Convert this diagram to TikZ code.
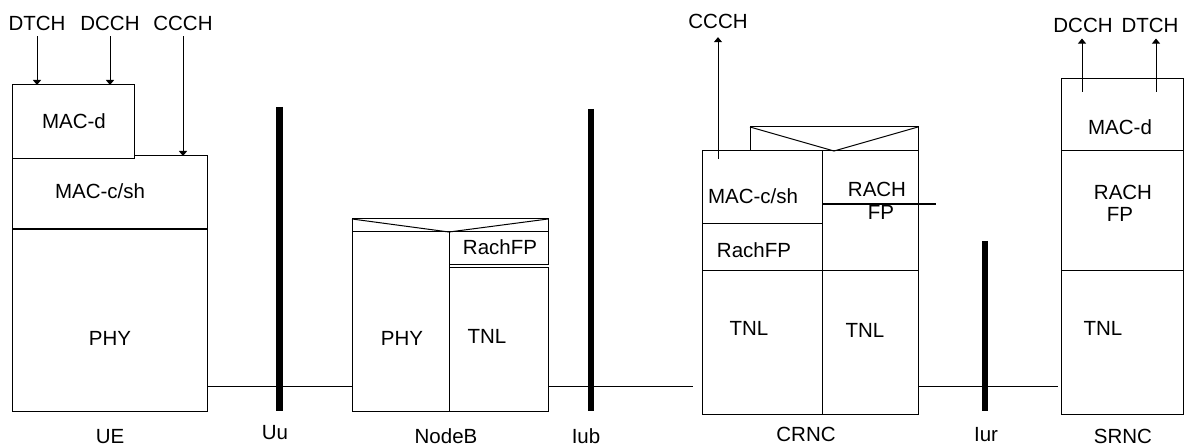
\documentclass[tikz,border=0pt]{standalone}
\usepackage{fontspec}
\setmainfont{Liberation Sans}
\usetikzlibrary{arrows.meta}
\tikzset{
  blk/.style={draw, line width=1pt, inner sep=0pt, outer sep=0pt, anchor=north west, fill=white},
  txt/.style={inner sep=0pt, font=\fontsize{20.5pt}{24pt}\selectfont, text height=14.7pt, text depth=0pt},
  barline/.style={line width=6pt},
  lnk/.style={line width=1pt},
  arr/.style={line width=1pt, -{Triangle[length=5pt,width=8pt]}}
}
\newcommand{\mkblk}[5]{\node[blk, minimum width=#4pt, minimum height=#5pt] (#1) at (#2,#3) {};}
\begin{document}
\begin{tikzpicture}[x=1pt,y=-1pt]
\useasboundingbox (0,0) rectangle (1188,446);
% ---------- UE ----------
\mkblk{uemacc}{12}{156}{195}{73}
\mkblk{uemacd}{12}{85}{122}{74}
\mkblk{uephy}{12}{230}{195}{181}
\node[txt] (tuemacd) at (74,121) {MAC-d};
\node[txt] (tuemacc) at (100,191) {MAC-c/sh};
\node[txt] (tuephy) at (110,338) {PHY};
\node[txt] (ldtch) at (37,23) {DTCH};
\node[txt] (ldcch) at (110,23) {DCCH};
\node[txt] (lccch) at (183,23) {CCCH};
\draw[arr, shorten <=5.6pt] (ldtch.south) -- (ldtch.south |- uemacd.north);
\draw[arr, shorten <=5.6pt] (ldcch.south) -- (ldcch.south |- uemacd.north);
\draw[arr, shorten <=5.6pt] (lccch.south) -- (lccch.south |- uemacc.north);
% ---------- NodeB ----------
\mkblk{nbtop}{352}{219}{196}{13}
\mkblk{nbphy}{352}{232}{97}{179}
\mkblk{nbrach}{449}{232}{99}{33}
\mkblk{nbtnl}{449}{268}{99}{143}
\draw[lnk] (nbtop.north west) -- (nbphy.north east) -- (nbtop.north east);
\node[txt] (tnbphy) at (402,338) {PHY};
\node[txt] (tnbtnl) at (487,336) {TNL};
\node[txt] (tnbrach) at (500,247) {RachFP};
% ---------- CRNC ----------
\mkblk{crtop}{750}{127}{168}{24}
\mkblk{crmac}{702}{151}{120}{73}
\mkblk{crrfp}{702}{224}{120}{47}
\mkblk{crtnla}{702}{271}{120}{143}
\mkblk{crrach}{822}{151}{96}{120}
\mkblk{crtnlb}{822}{271}{96}{143}
\draw[lnk] (crtop.north west) -- (crtop.south) -- (crtop.north east);
\coordinate (crl) at (936,204);
\draw[line width=1.5pt] (crrach.west |- crl) -- (crl);
\node[txt] (tcrmac) at (753,196) {MAC-c/sh};
\node[txt] (tcrrfp) at (754,250) {RachFP};
\node[txt] (tcrracha) at (877,189) {RACH};
\node[txt] (tcrrachb) at (881,212) {FP};
\node[txt] (tcrtnla) at (749,328) {TNL};
\node[txt] (tcrtnlb) at (865,330) {TNL};
\node[txt] (lcccch) at (718,21) {CCCH};
\coordinate (cst) at (718,159);
\draw[arr, shorten >=8.6pt] (cst) -- (cst |- lcccch.south);
% ---------- SRNC ----------
\mkblk{srmac}{1061}{79}{122}{72}
\mkblk{srrach}{1061}{151}{122}{120}
\mkblk{srtnl}{1061}{271}{122}{143}
\node[txt] (tsrmac) at (1120,127) {MAC-d};
\node[txt] (tsrracha) at (1123,192) {RACH};
\node[txt] (tsrrachb) at (1120,214) {FP};
\node[txt] (tsrtnl) at (1103,328) {TNL};
\node[txt] (lsdcch) at (1083,25) {DCCH};
\node[txt] (lsdtch) at (1150,25) {DTCH};
\coordinate (ssa) at (1082,92);
\coordinate (ssb) at (1156,92);
\draw[arr, shorten >=6pt] (ssa) -- (ssa |- lsdcch.south);
\draw[arr, shorten >=6pt] (ssb) -- (ssb |- lsdtch.south);
% ---------- interfaces ----------
\coordinate (ly) at (0,386);
\coordinate (lkb) at (693,386);
\coordinate (lkc) at (1058,386);
\draw[lnk] (uephy.east |- ly) -- (nbphy.west |- ly);
\draw[lnk] (nbtnl.east |- ly) -- (lkb);
\draw[lnk] (crtnlb.east |- ly) -- (lkc);
\coordinate (uut) at (279.5,107);
\coordinate (uub) at (279.5,411);
\coordinate (iubt) at (591,109);
\coordinate (iubb) at (591,411);
\coordinate (iurt) at (985,241);
\coordinate (iurb) at (985,411);
\draw[barline, line width=7pt] (uut) -- (uub);
\draw[barline] (iubt) -- (iubb);
\draw[barline, line width=5.5pt] (iurt) -- (iurb);
% ---------- labels ----------
\node[txt] (lue) at (110,436) {UE};
\node[txt] (luu) at (275,432) {Uu};
\node[txt] (lnb) at (446,436) {NodeB};
\node[txt] (liub) at (586,436) {Iub};
\node[txt] (lcr) at (806,434) {CRNC};
\node[txt] (liur) at (986,434) {Iur};
\node[txt] (lsr) at (1123,436) {SRNC};
\end{tikzpicture}
\end{document}
